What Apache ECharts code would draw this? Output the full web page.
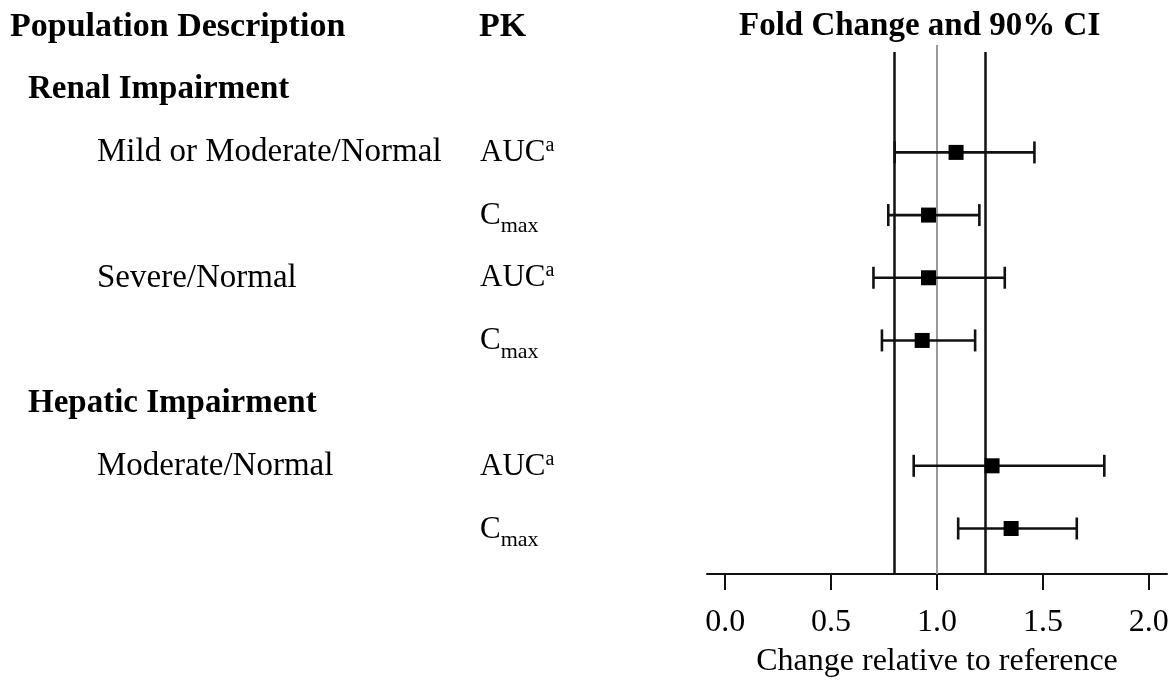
<!DOCTYPE html>
<html><head><meta charset="utf-8">
<script src="https://cdn.jsdelivr.net/npm/echarts@6/dist/echarts.min.js"></script>
<style>html,body{margin:0;padding:0;background:#fff}#c{width:1175px;height:683px}</style>
</head><body><div id="c"></div>
<script>
// ---- data ----
const groupNames = ['Renal Impairment', 'Hepatic Impairment'];
const rowGroup = [0, 0, 0, 0, 1, 1];
const rowPopulation = ['Mild or Moderate/Normal', '', 'Severe/Normal', '', 'Moderate/Normal', ''];
const rowPK = ['AUC', 'C', 'AUC', 'C', 'AUC', 'C'];
const rowPKSup = ['a', '', 'a', '', 'a', ''];
const rowPKSub = ['', 'max', '', 'max', '', 'max'];
const foldChange = [1.09, 0.96, 0.96, 0.93, 1.26, 1.35];
const ciLower = [0.80, 0.77, 0.70, 0.74, 0.89, 1.10];
const ciUpper = [1.46, 1.20, 1.32, 1.18, 1.79, 1.66];
const boundLines = [0.8, 1.23];
const referenceLine = [1.0];
const xTickValues = [0, 0.5, 1.0, 1.5, 2.0];
const columnHeaders = ['Population Description', 'PK'];
const plotTitle = 'Fold Change and 90% CI';
const xAxisTitle = 'Change relative to reference';

// ---- layout ----
const FONT = '"Liberation Serif", "Times New Roman", serif';
const ROW0 = 27, ROW_H = 62.8;          // pixel centre of row 0 and row pitch
const AXIS_Y = 575, PLOT_TOP = 45, BOUND_TOP = 52, H = 683;
const yAt = px => (px - ROW0) / ROW_H;   // pixel -> row units

// assign row indices (row 0 = column headers)
const rowIndex = [];
const groupRow = [];
let r = 0, prevG = -1;
rowGroup.forEach((g, i) => {
  if (g !== prevG) { r++; groupRow[g] = r; prevG = g; }
  r++; rowIndex.push(r);
});

const headerData = [[10, 0, columnHeaders[0]], [479, 0, columnHeaders[1]]];
const groupData = groupNames.map((n, g) => [28, groupRow[g], n]);
const popData = rowPopulation.map((p, i) => [97, rowIndex[i], p]).filter(d => d[2]);
const pkData = rowPK.map((p, i) => [480, rowIndex[i], p, rowPKSup[i], rowPKSub[i]]);

const txtColor = '#000';
const labelSeries = (data, fontWeight, fontSize, formatter, rich) => ({
  type: 'scatter', xAxisIndex: 0, yAxisIndex: 0, symbolSize: 0, silent: true,
  itemStyle: {opacity: 1},
  data: data,
  label: {
    show: true, position: 'right', distance: 0, color: txtColor, opacity: 1,
    fontFamily: FONT, fontWeight: fontWeight, fontSize: fontSize,
    formatter: formatter || (p => p.data[2]), rich: rich
  }
});

const chart = echarts.init(document.getElementById('c'), null, {renderer: 'canvas'});
chart.setOption({
  backgroundColor: '#fff',
  animation: false,
  title: {
    text: plotTitle, left: 739, top: 10, padding: 0,
    textStyle: {fontFamily: FONT, fontWeight: 'bold', fontSize: 33, color: txtColor}
  },
  grid: [
    {left: 0, top: 0, width: 700, height: AXIS_Y},
    {left: 707, right: 8, top: PLOT_TOP, bottom: H - AXIS_Y}
  ],
  xAxis: [
    {gridIndex: 0, type: 'value', min: 0, max: 700, show: false},
    {
      gridIndex: 1, type: 'value', min: -0.086, max: 2.086,
      splitLine: {show: false},
      axisLine: {show: true, lineStyle: {color: '#111', width: 2}},
      axisTick: {show: true, customValues: xTickValues, length: 16, inside: false,
                 lineStyle: {color: '#111', width: 2}},
      axisLabel: {customValues: xTickValues, formatter: v => v.toFixed(1), margin: 33,
                  fontFamily: FONT, fontSize: 32, color: txtColor},
      name: xAxisTitle, nameLocation: 'middle', nameGap: 72,
      nameTextStyle: {fontFamily: FONT, fontSize: 32, color: txtColor}
    }
  ],
  yAxis: [
    {gridIndex: 0, type: 'value', inverse: true, min: yAt(0), max: yAt(AXIS_Y), show: false},
    {gridIndex: 1, type: 'value', inverse: true, min: yAt(PLOT_TOP), max: yAt(AXIS_Y), show: false}
  ],
  series: [
    labelSeries(headerData, 'bold', 34),
    labelSeries(groupData, 'bold', 33),
    labelSeries(popData, 'normal', 33),
    labelSeries(pkData, 'normal', 31, p => {
      let s = '{m|' + p.data[2] + '}';
      if (p.data[3]) s += '{sup|' + p.data[3] + '}';
      if (p.data[4]) s += '{sub|' + p.data[4] + '}';
      return s;
    }, {
      m: {fontFamily: FONT, fontSize: 31, color: txtColor, lineHeight: 56},
      sup: {fontFamily: FONT, fontSize: 20, color: txtColor, padding: [0, 0, 14, 0]},
      sub: {fontFamily: FONT, fontSize: 22, color: txtColor, padding: [22, 0, 0, 0]}
    }),
    {
      type: 'custom', xAxisIndex: 1, yAxisIndex: 1, silent: true, z: 3,
      data: ciLower.map((lo, i) => [lo, ciUpper[i], rowIndex[i]]),
      encode: {x: [0, 1], y: 2},
      renderItem: (params, api) => {
        const y = api.value(2);
        const a = api.coord([api.value(0), y]);
        const b = api.coord([api.value(1), y]);
        const h = 11;
        const style = {stroke: '#111', lineWidth: 2.6, fill: null};
        return {type: 'group', children: [
          {type: 'line', shape: {x1: a[0], y1: a[1], x2: b[0], y2: b[1]}, style},
          {type: 'line', shape: {x1: a[0], y1: a[1] - h, x2: a[0], y2: a[1] + h}, style},
          {type: 'line', shape: {x1: b[0], y1: b[1] - h, x2: b[0], y2: b[1] + h}, style}
        ]};
      }
    },
    {
      type: 'scatter', xAxisIndex: 1, yAxisIndex: 1, silent: true, z: 4,
      symbol: 'rect', symbolSize: 15,
      itemStyle: {color: '#000', opacity: 1},
      data: foldChange.map((v, i) => [v, rowIndex[i]]),
      markLine: {
        silent: true, symbol: 'none', label: {show: false}, z: 2,
        data: boundLines.map(v => [
            {coord: [v, yAt(BOUND_TOP)], lineStyle: {color: '#111', width: 2.5, type: 'solid'}},
            {coord: [v, yAt(AXIS_Y)]}
          ])
          .concat(referenceLine.map(v => ({xAxis: v, lineStyle: {color: '#9a9a9a', width: 2, type: 'solid'}})))
      }
    }
  ]
});
</script></body></html>
